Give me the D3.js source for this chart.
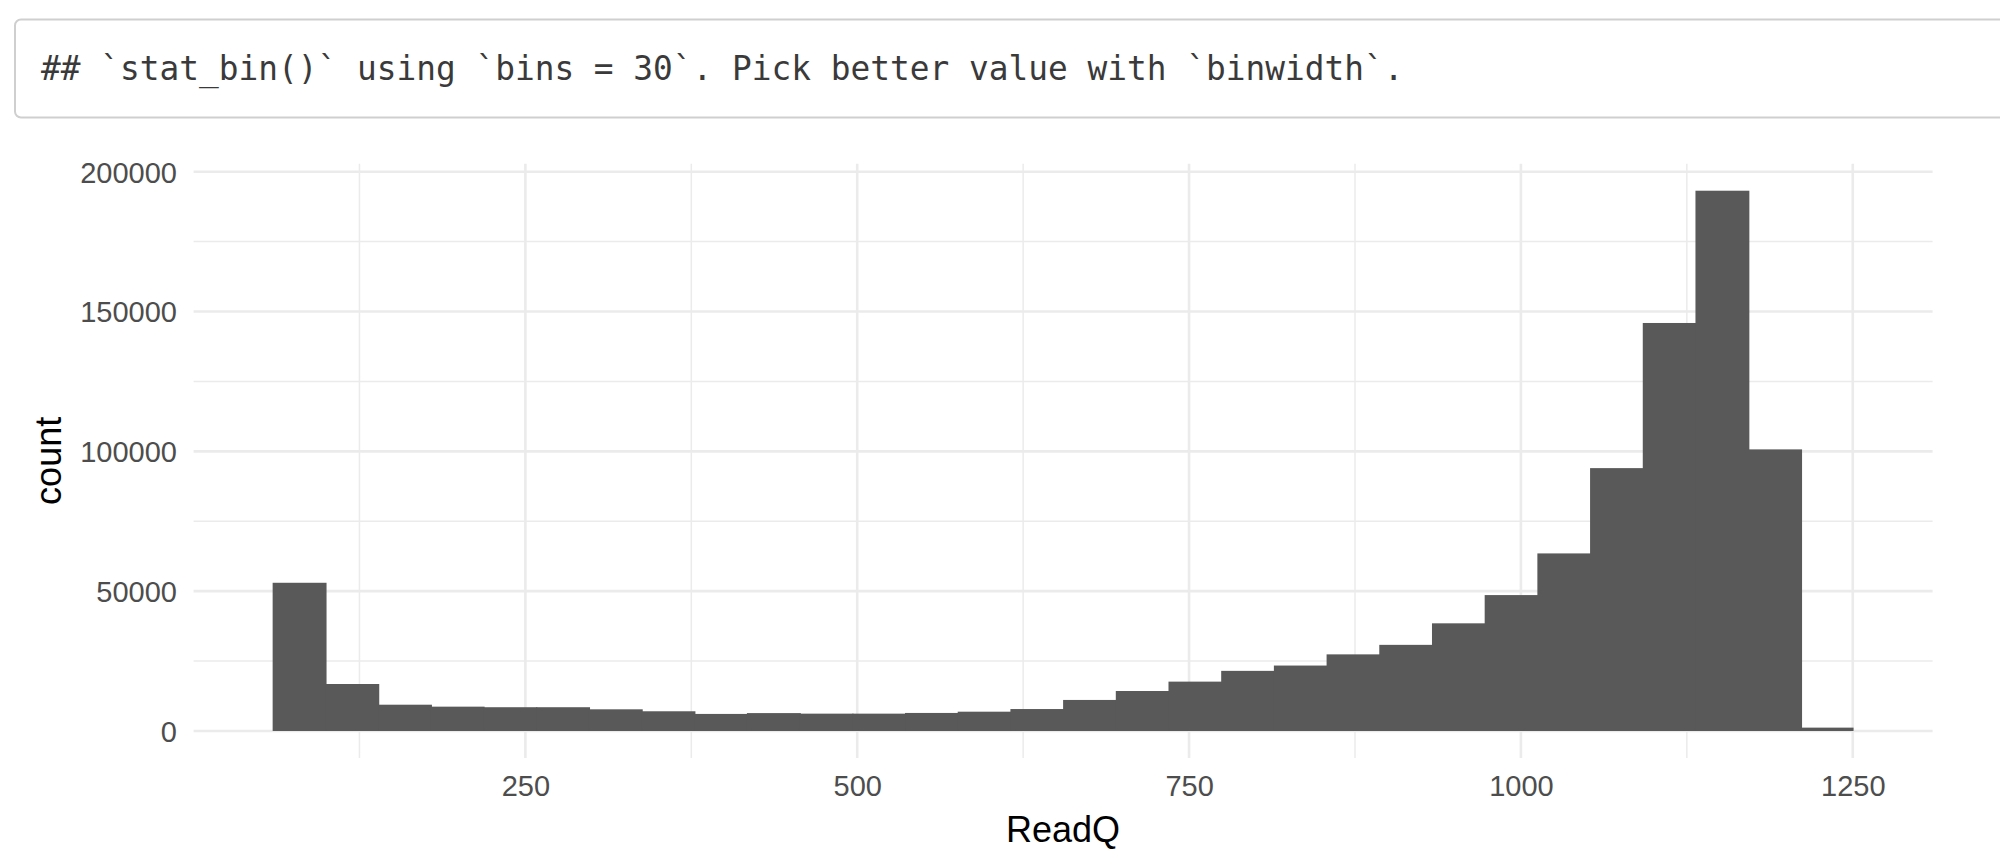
<!DOCTYPE html>
<html>
<head>
<meta charset="utf-8">
<script src="https://cdn.jsdelivr.net/npm/d3@7/dist/d3.min.js"></script>
<style>
  html, body { margin: 0; padding: 0; background: #ffffff; }
  svg { display: block; }
</style>
</head>
<body>
<svg id="chart" width="2000" height="865"></svg>
<script>
// ---- data ----
const messageText = "## `stat_bin()` using `bins = 30`. Pick better value with `binwidth`.";
const binStart = 59.6;     // left edge of first bin (ReadQ units)
const binWidth = 39.7;     // width of each bin (ReadQ units)
const binCounts = [
  53000, 16800, 9400, 8700, 8500, 8500, 7750, 7050, 6100, 6400,
  6200, 6200, 6450, 6900, 7850, 11100, 14300, 17650, 21500, 23400,
  27400, 30800, 38500, 48600, 63500, 94000, 145900, 193200, 100700, 1200
];
const xMajorTicks = [250, 500, 750, 1000, 1250];
const xMinorTicks = [125, 375, 625, 875, 1125];
const yMajorTicks = [0, 50000, 100000, 150000, 200000];
const yMinorTicks = [25000, 75000, 125000, 175000];
const xTitle = "ReadQ";
const yTitle = "count";

// ---- build bins ----
const bins = binCounts.map((c, i) => ({
  x0: binStart + i * binWidth,
  x1: binStart + (i + 1) * binWidth,
  count: c
}));

const svg = d3.select("#chart");

// message box
svg.append("rect")
  .attr("x", 15).attr("y", 19.5)
  .attr("width", 2010).attr("height", 98)
  .attr("rx", 6).attr("ry", 6)
  .attr("fill", "#ffffff")
  .attr("stroke", "#cfcfcf")
  .attr("stroke-width", 2);

svg.append("text")
  .attr("x", 41).attr("y", 80)
  .attr("font-family", "'DejaVu Sans Mono', monospace")
  .attr("font-size", 32.8)
  .attr("fill", "#3a3a3a")
  .attr("xml:space", "preserve")
  .style("white-space", "pre")
  .text(messageText);

// ---- plot panel ----
const panel = { left: 193.6, right: 1932.6, top: 163.7, bottom: 758 };

const xMin = d3.min(bins, d => d.x0), xMax = d3.max(bins, d => d.x1);
const xPad = (xMax - xMin) * 0.05;
const x = d3.scaleLinear()
  .domain([xMin - xPad, xMax + xPad])
  .range([panel.left, panel.right]);

const yMax = d3.max(bins, d => d.count);
const yPad = yMax * 0.05;
const y = d3.scaleLinear()
  .domain([-yPad, yMax + yPad])
  .range([panel.bottom, panel.top]);

const grid = svg.append("g");
const gridColor = "#ebebeb";

grid.selectAll("line.ymin").data(yMinorTicks).join("line")
  .attr("x1", panel.left).attr("x2", panel.right)
  .attr("y1", d => y(d)).attr("y2", d => y(d))
  .attr("stroke", gridColor).attr("stroke-width", 1.5);
grid.selectAll("line.xmin").data(xMinorTicks).join("line")
  .attr("y1", panel.top).attr("y2", panel.bottom)
  .attr("x1", d => x(d)).attr("x2", d => x(d))
  .attr("stroke", gridColor).attr("stroke-width", 1.5);
grid.selectAll("line.ymaj").data(yMajorTicks).join("line")
  .attr("x1", panel.left).attr("x2", panel.right)
  .attr("y1", d => y(d)).attr("y2", d => y(d))
  .attr("stroke", gridColor).attr("stroke-width", 2.6);
grid.selectAll("line.xmaj").data(xMajorTicks).join("line")
  .attr("y1", panel.top).attr("y2", panel.bottom)
  .attr("x1", d => x(d)).attr("x2", d => x(d))
  .attr("stroke", gridColor).attr("stroke-width", 2.6);

// bars (slight overlap so adjacent bins show no seams)
const nBins = bins.length;
svg.append("g").selectAll("rect").data(bins).join("rect")
  .attr("x", d => x(d.x0))
  .attr("width", (d, i) => x(d.x1) - x(d.x0) + (i < nBins - 1 ? 1.2 : 0))
  .attr("y", d => y(d.count))
  .attr("height", d => y(0) - y(d.count))
  .attr("fill", "#595959");

// axes (d3 axes with ggplot minimal styling: no domain, no tick marks)
const tickFont = "'Liberation Sans', Arial, sans-serif";
const xAxis = svg.append("g")
  .attr("transform", `translate(0,${panel.bottom})`)
  .call(d3.axisBottom(x).tickValues(xMajorTicks).tickSize(0).tickPadding(0).tickFormat(d3.format("d")));
xAxis.select(".domain").remove();
xAxis.selectAll("text")
  .attr("y", 38).attr("dy", 0)
  .attr("font-family", tickFont).attr("font-size", 29)
  .attr("fill", "#4d4d4d");

const yAxis = svg.append("g")
  .attr("transform", `translate(177,0)`)
  .call(d3.axisLeft(y).tickValues(yMajorTicks).tickSize(0).tickPadding(0).tickFormat(d3.format("d")));
yAxis.select(".domain").remove();
yAxis.selectAll("text")
  .attr("x", 0).attr("dy", "0.36em")
  .attr("font-family", tickFont).attr("font-size", 29)
  .attr("fill", "#4d4d4d");

// titles
svg.append("text")
  .attr("x", (panel.left + panel.right) / 2).attr("y", 842)
  .attr("text-anchor", "middle")
  .attr("font-family", tickFont).attr("font-size", 36)
  .attr("fill", "#000000")
  .text(xTitle);

svg.append("text")
  .attr("transform", `translate(61,${(panel.top + panel.bottom) / 2}) rotate(-90)`)
  .attr("text-anchor", "middle")
  .attr("font-family", tickFont).attr("font-size", 36)
  .attr("fill", "#000000")
  .text(yTitle);
</script>
</body>
</html>
